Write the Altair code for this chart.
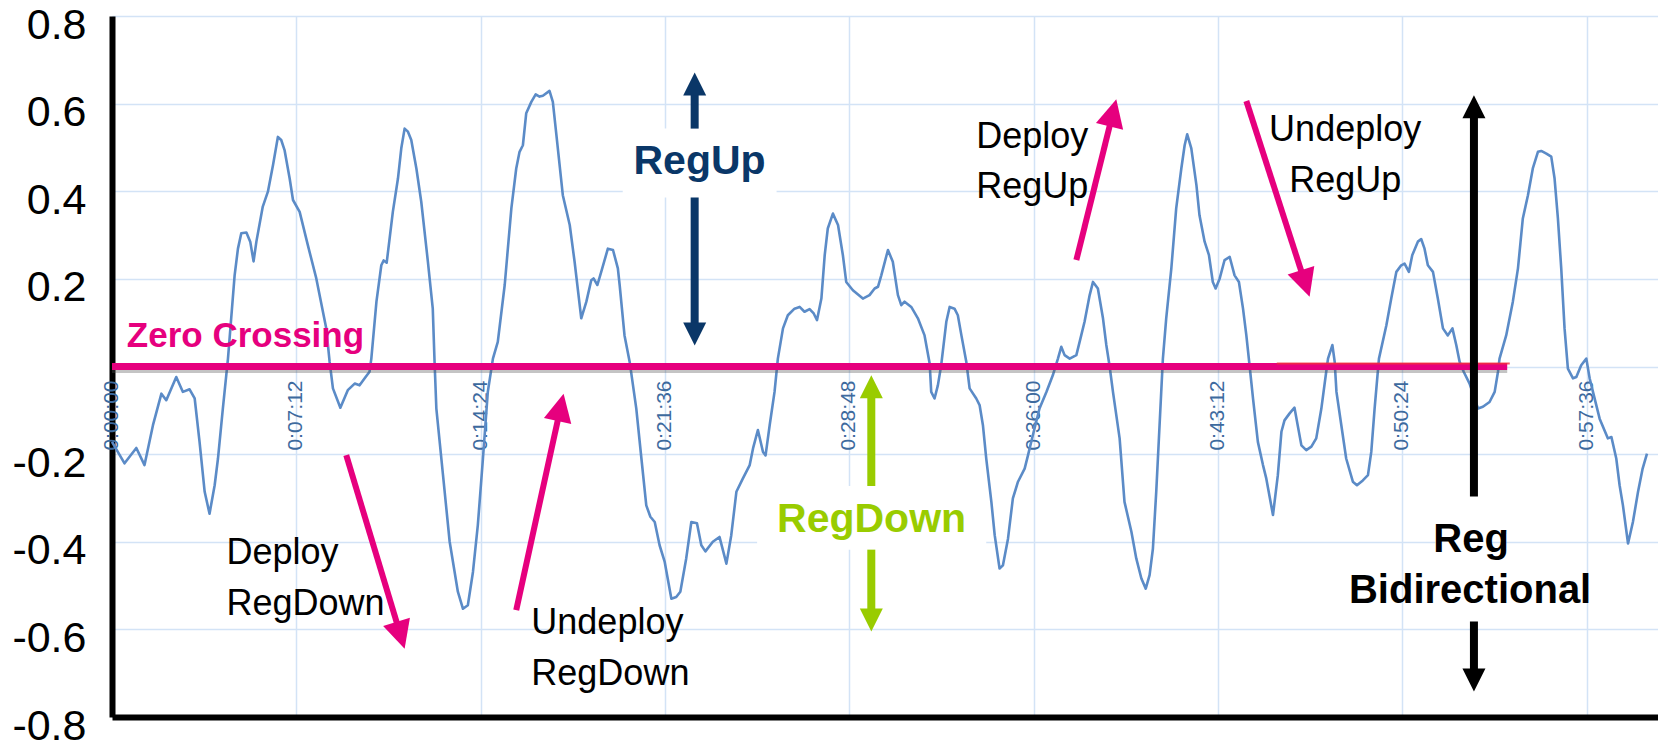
import math
import altair as alt
import pandas as pd

# ---------------- data ----------------
minutes = [
    0.00, 0.49, 0.95, 1.27, 1.60, 1.93, 2.12, 2.51, 2.77, 3.03, 3.23, 3.42, 3.62, 3.81, 4.01, 4.14, 4.33, 4.53,
    4.79, 4.92, 5.05, 5.25, 5.40, 5.53, 5.64, 5.89, 6.09, 6.29, 6.48, 6.61, 6.74, 6.94, 7.07, 7.33, 7.65, 7.98, 8.37, 8.50,
    8.63, 8.92, 9.21, 9.48, 9.67, 9.87, 10.06, 10.13,
    10.33, 10.52, 10.61, 10.73, 10.97, 11.17, 11.30, 11.43, 11.56, 11.69, 11.89, 12.08, 12.34, 12.53, 12.60,
    12.67, 12.93, 13.19, 13.51, 13.71, 13.90, 14.10, 14.29, 14.49, 14.68, 14.88,
    15.07, 15.34, 15.60, 15.79, 15.92, 16.05, 16.18, 16.38, 16.55, 16.70, 16.83, 17.09, 17.22, 17.36, 17.61, 17.88,
    18.07, 18.33, 18.53, 18.72, 18.81, 18.96, 19.11, 19.37, 19.57, 19.76, 19.83, 20.02, 20.22,
    20.48, 20.68, 20.87, 21.03, 21.20, 21.39, 21.59, 21.85, 22.04, 22.20, 22.43, 22.63, 22.85, 23.02, 23.18, 23.47,
    23.73, 24.00, 24.19, 24.39, 24.64, 24.91, 25.04, 25.23, 25.43, 25.53, 25.69, 25.88, 26.01,
    26.21, 26.40, 26.66, 26.86, 27.05, 27.25, 27.41, 27.54, 27.71, 27.84, 27.96, 28.16, 28.36, 28.55, 28.68, 28.94,
    29.33, 29.59, 29.79, 29.92, 30.05, 30.31, 30.50, 30.70, 30.83, 30.96, 31.22, 31.48, 31.74, 31.94,
    32.00, 32.13, 32.26, 32.39,
    32.59, 32.72, 32.91, 33.04, 33.18, 33.37,
    33.50, 33.76, 33.89, 34.02, 34.15, 34.35, 34.48, 34.67, 34.80, 35.00, 35.19, 35.39, 35.65, 35.78, 35.97, 36.23,
    36.50, 36.75, 36.95,
    37.08, 37.21, 37.41, 37.67, 37.86, 37.99, 38.19, 38.32, 38.51, 38.71, 38.84, 38.97,
    39.10, 39.36, 39.55, 39.82, 40.01, 40.21, 40.38, 40.53, 40.66, 40.79, 40.92, 41.05,
    41.18, 41.38, 41.57, 41.77, 41.90, 42.00, 42.16, 42.36, 42.48, 42.68, 42.85, 43.00, 43.11, 43.27, 43.46, 43.66,
    43.85, 44.02, 44.18, 44.31, 44.44,
    44.57, 44.76, 44.96, 45.09, 45.35, 45.54, 45.68, 45.80, 46.00, 46.19, 46.46, 46.65, 46.85, 47.04, 47.24, 47.43, 47.50,
    47.67, 47.76,
    47.83, 48.02, 48.21, 48.47, 48.63, 48.86, 49.06, 49.19, 49.32, 49.49,
    49.78, 49.97, 50.17, 50.36, 50.49, 50.66, 50.79, 51.01, 51.14, 51.27, 51.40, 51.60, 51.79, 51.99, 52.18, 52.36,
    52.51, 52.64,
    52.80, 53.03, 53.36, 53.55, 53.81, 54.01, 54.14, 54.20,
    54.46, 54.72, 54.92, 55.11, 55.31, 55.50, 55.70, 55.83, 56.03, 56.22, 56.35, 56.48, 56.61, 56.74, 56.87,
    57.07, 57.20, 57.39, 57.59, 57.72, 57.85, 58.11, 58.43, 58.57, 58.76, 58.89, 59.02, 59.22, 59.41, 59.61, 59.79, 59.96,
]
values = [
    -0.172, -0.221, -0.186, -0.225, -0.134, -0.062, -0.077, -0.024, -0.058, -0.052, -0.073, -0.172, -0.286, -0.336, -0.271, -0.210, -0.096, 0.018,
    0.208, 0.269, 0.304, 0.306, 0.285, 0.240, 0.285, 0.365, 0.399, 0.460, 0.524, 0.517, 0.494, 0.429, 0.380, 0.353, 0.277, 0.201, 0.087, 0.011,
    -0.050, -0.094, -0.054, -0.039, -0.043, -0.027, -0.012, 0.018,
    0.148, 0.231, 0.242, 0.237, 0.353, 0.429, 0.498, 0.543, 0.536, 0.517, 0.452, 0.376, 0.239, 0.132, 0.011,
    -0.096, -0.248, -0.400, -0.514, -0.553, -0.545, -0.469, -0.362, -0.210, -0.058, 0.018,
    0.056, 0.186, 0.361, 0.452, 0.490, 0.505, 0.578, 0.604, 0.621, 0.616, 0.618, 0.629, 0.604, 0.528, 0.391, 0.323,
    0.239, 0.110, 0.148, 0.197, 0.201, 0.186, 0.216, 0.269, 0.266, 0.224, 0.186, 0.071, 0.011,
    -0.096, -0.210, -0.317, -0.343, -0.355, -0.408, -0.446, -0.530, -0.526, -0.514, -0.438, -0.355, -0.358, -0.408, -0.422, -0.400,
    -0.389, -0.450, -0.385, -0.286, -0.256, -0.225, -0.187, -0.145, -0.195, -0.203, -0.134, -0.058, 0.018,
    0.087, 0.117, 0.132, 0.136, 0.125, 0.131, 0.121, 0.106, 0.155, 0.254, 0.315, 0.349, 0.323, 0.254, 0.193, 0.174,
    0.155, 0.163, 0.178, 0.182, 0.208, 0.266, 0.239, 0.163, 0.140, 0.148, 0.136, 0.110, 0.071, 0.007,
    -0.058, -0.073, -0.043, 0.003,
    0.102, 0.136, 0.132, 0.117, 0.071, 0.011,
    -0.050, -0.073, -0.088, -0.134, -0.210, -0.309, -0.385, -0.461, -0.454, -0.393, -0.301, -0.263, -0.233, -0.203, -0.157, -0.096,
    -0.058, -0.020, 0.018,
    0.045, 0.026, 0.018, 0.026, 0.071, 0.102, 0.163, 0.193, 0.178, 0.110, 0.049, 0.000,
    -0.058, -0.164, -0.309, -0.377, -0.438, -0.484, -0.507, -0.476, -0.416, -0.286, -0.134, 0.018,
    0.110, 0.224, 0.361, 0.452, 0.505, 0.530, 0.498, 0.414, 0.345, 0.285, 0.254, 0.193, 0.178, 0.201, 0.243, 0.250,
    0.208, 0.193, 0.132, 0.071, 0.000,
    -0.073, -0.172, -0.225, -0.256, -0.339, -0.248, -0.149, -0.123, -0.107, -0.094, -0.180, -0.191, -0.183, -0.164, -0.096, -0.012, 0.018,
    0.049, 0.011,
    -0.058, -0.134, -0.210, -0.263, -0.271, -0.260, -0.248, -0.195, -0.096, 0.018,
    0.094, 0.155, 0.216, 0.231, 0.235, 0.216, 0.254, 0.285, 0.291, 0.269, 0.231, 0.216, 0.155, 0.087, 0.071, 0.087,
    0.049, 0.011,
    -0.012, -0.039, -0.096, -0.092, -0.081, -0.058, -0.012, 0.018,
    0.071, 0.148, 0.224, 0.338, 0.391, 0.452, 0.490, 0.492, 0.486, 0.479, 0.429, 0.338, 0.224, 0.087, -0.005,
    -0.027, -0.024, 0.003, 0.018, -0.027, -0.058, -0.119, -0.164, -0.161, -0.210, -0.271, -0.317, -0.404, -0.355, -0.286, -0.233, -0.199,
]

tick_minutes = [0, 7.2, 14.4, 21.6, 28.8, 36.0, 43.2, 50.4, 57.6]
tick_labels = ["0:00:00", "0:07:12", "0:14:24", "0:21:36", "0:28:48",
               "0:36:00", "0:43:12", "0:50:24", "0:57:36"]
y_ticks = [-0.8, -0.6, -0.4, -0.2, 0, 0.2, 0.4, 0.6, 0.8]

zero_cross_end = 54.5
zero_tint_start = 45.5

# annotation texts (position in minutes / value units, baseline)
note_text = ["Zero Crossing", "Deploy", "RegDown", "Undeploy", "RegDown", "Deploy", "RegUp",
             "Undeploy", "RegUp", "RegUp", "RegDown", "Reg", "Bidirectional"]
note_t = [0.58, 4.47, 4.47, 16.38, 16.38, 33.76, 33.76, 48.17, 48.17, 22.95, 29.67, 53.09, 53.05]
note_v = [0.045, -0.450, -0.567, -0.610, -0.727, 0.498, 0.384, 0.515, 0.399, 0.440, -0.377, -0.423, -0.539]
note_group = ["lb", "ln", "ln", "ln", "ln", "ln", "ln", "cn", "cn", "cb", "cb", "cb", "cb"]
note_color = ["#e6007e", "black", "black", "black", "black", "black", "black", "black", "black",
              "#0a3768", "#99cc00", "black", "black"]
note_size = [35, 36, 36, 36, 36, 36, 36, 36, 36, 41, 41, 40, 40]

# arrows: tail -> tip
arrow_t1 = [22.76, 22.76, 29.66, 29.66, 53.20, 53.20, 9.15, 15.79, 37.67, 44.31]
arrow_v1 = [0.543, 0.386, -0.273, -0.418, -0.297, -0.582, -0.2025, -0.556, 0.243, 0.606]
arrow_t2 = [22.76, 22.76, 29.66, 29.66, 53.20, 53.20, 11.43, 17.64, 39.23, 46.78]
arrow_v2 = [0.671, 0.048, -0.020, -0.605, 0.619, -0.742, -0.644, -0.062, 0.610, 0.159]
arrow_color = ["#0a3768", "#0a3768", "#99cc00", "#99cc00", "black", "black",
               "#e6007e", "#e6007e", "#e6007e", "#e6007e"]
arrow_shaft = [8, 8, 8, 8, 8, 8, 6, 6, 6, 6]
arrow_head = [23, 23, 23, 23, 23, 23, 28, 28, 28, 28]

# white label boxes
box_t1 = [19.95, 25.2, 51.7]
box_t2 = [25.96, 34.15, 53.7]
box_v1 = [0.386, -0.418, -0.582]
box_v2 = [0.543, -0.273, -0.297]

# ---------------- layout / style ----------------
W, H = 1546, 701
X_MAX = 60.39
Y_MIN, Y_MAX = -0.8, 0.8
FONT = "Liberation Sans Narrow, Arial Narrow, Liberation Sans, Arial, sans-serif"
GRID = "#d3e3f6"
LINE_BLUE = "#5b8bc7"
TICK_BLUE = "#3d6a9e"
MAGENTA = "#e6007e"

xs = alt.Scale(domain=[0, X_MAX], nice=False, zero=False)
ys = alt.Scale(domain=[Y_MIN, Y_MAX], nice=False, zero=False)

x_axis = alt.Axis(values=tick_minutes, grid=True, gridColor=GRID, gridWidth=1.5,
                  labels=False, ticks=False, domain=True, domainColor="black",
                  domainWidth=6, title=None)
y_axis = alt.Axis(values=y_ticks, grid=True, gridColor=GRID, gridWidth=1.5,
                  ticks=False, domain=True, domainColor="black", domainWidth=6,
                  title=None, labelFont=FONT, labelFontSize=43,
                  labelColor="black", labelPadding=26, labelBaseline="middle", labelOffset=9,
                  labelOverlap=False,
                  labelExpr="datum.value == 0 ? '' : (datum.value < 0 ? '-' : '') + format(abs(datum.value), '.1f')")

X = alt.X("t:Q", scale=xs, axis=x_axis)
Y = alt.Y("v:Q", scale=ys, axis=y_axis)

# ---------------- tables ----------------
series = pd.DataFrame({"t": minutes, "v": values})
ticks_df = pd.DataFrame({"t": tick_minutes, "v": [0] * len(tick_minutes), "label": tick_labels})
notes = pd.DataFrame({"t": note_t, "v": note_v, "text": note_text, "g": note_group,
                      "color": note_color, "size": note_size})
boxes = pd.DataFrame({"t": box_t1, "t2": box_t2, "v": box_v1, "v2": box_v2})
zero_df = pd.DataFrame({"t": [0], "t2": [zero_cross_end], "v": [0]})
tint_df = pd.DataFrame({"t": [zero_tint_start], "t2": [zero_cross_end + 0.1], "v": [0]})

px_per_min = W / X_MAX
px_per_unit = H / (Y_MAX - Y_MIN)
shafts, heads = [], []
for t1, v1, t2, v2, c, sw, hw in zip(arrow_t1, arrow_v1, arrow_t2, arrow_v2,
                                     arrow_color, arrow_shaft, arrow_head):
    dx = (t2 - t1) * px_per_min
    dy = -(v2 - v1) * px_per_unit
    L = math.hypot(dx, dy)
    ux, uy = dx / L, dy / L
    back = 0.8 * hw
    shafts.append({"t": t1, "v": v1,
                   "t2": t2 - back * ux / px_per_min,
                   "v2": v2 + back * uy / px_per_unit,
                   "color": c, "w": sw})
    heads.append({"t": t2, "v": v2, "color": c, "size": hw * hw,
                  "angle": math.degrees(math.atan2(dx, -dy)) % 360})
shaft_df = pd.DataFrame(shafts)
head_df = pd.DataFrame(heads)

# ---------------- layers ----------------
line_layer = alt.Chart(series).mark_line(
    color=LINE_BLUE, strokeWidth=2.6, strokeJoin="round").encode(x=X, y=Y)

box_layer = alt.Chart(boxes).mark_rect(color="white").encode(
    x=X, x2="t2:Q", y=Y, y2="v2:Q")

tick_layer = alt.Chart(ticks_df).mark_text(
    angle=270, align="right", baseline="middle", dx=-14, font=FONT,
    fontSize=21, color=TICK_BLUE).encode(x=X, y=Y, text="label:N")

shadow_layer = alt.Chart(zero_df).mark_rule(
    color="#555555", opacity=0.35, strokeWidth=3, yOffset=5).encode(x=X, x2="t2:Q", y=Y)
zero_layer = alt.Chart(zero_df).mark_rule(
    color=MAGENTA, strokeWidth=7).encode(x=X, x2="t2:Q", y=Y)
tint_layer = alt.Chart(tint_df).mark_rule(
    color="#f2303c", strokeWidth=2, yOffset=-3, opacity=0.8).encode(x=X, x2="t2:Q", y=Y)

shaft_layer = alt.Chart(shaft_df).mark_rule(strokeCap="butt").encode(
    x=X, y=Y, x2="t2:Q", y2="v2:Q",
    color=alt.Color("color:N", scale=None),
    strokeWidth=alt.StrokeWidth("w:Q", scale=None))
head_layer = alt.Chart(head_df).mark_point(
    shape="M0,0L1,2L-1,2Z", filled=True, opacity=1, strokeWidth=0).encode(
    x=X, y=Y, color=alt.Color("color:N", scale=None),
    size=alt.Size("size:Q", scale=None), angle=alt.Angle("angle:Q", scale=None))


def note_layer(group, align, weight):
    return alt.Chart(notes[notes.g == group]).mark_text(
        align=align, baseline="alphabetic", font=FONT, fontWeight=weight).encode(
        x=X, y=Y, text="text:N",
        color=alt.Color("color:N", scale=None),
        size=alt.Size("size:Q", scale=None))


chart = alt.layer(
    box_layer, tick_layer, line_layer, shadow_layer, zero_layer, tint_layer,
    shaft_layer, head_layer,
    note_layer("lb", "left", "bold"), note_layer("ln", "left", "normal"),
    note_layer("cn", "center", "normal"), note_layer("cb", "center", "bold"),
).properties(
    width=W, height=H,
    padding={"left": 104, "top": 8, "right": 0, "bottom": 24},
    autosize=alt.AutoSizeParams(type="none"),
    background="white",
).configure_view(strokeWidth=0)

chart.save("out.html", embed_options={"renderer": "svg", "actions": False})
